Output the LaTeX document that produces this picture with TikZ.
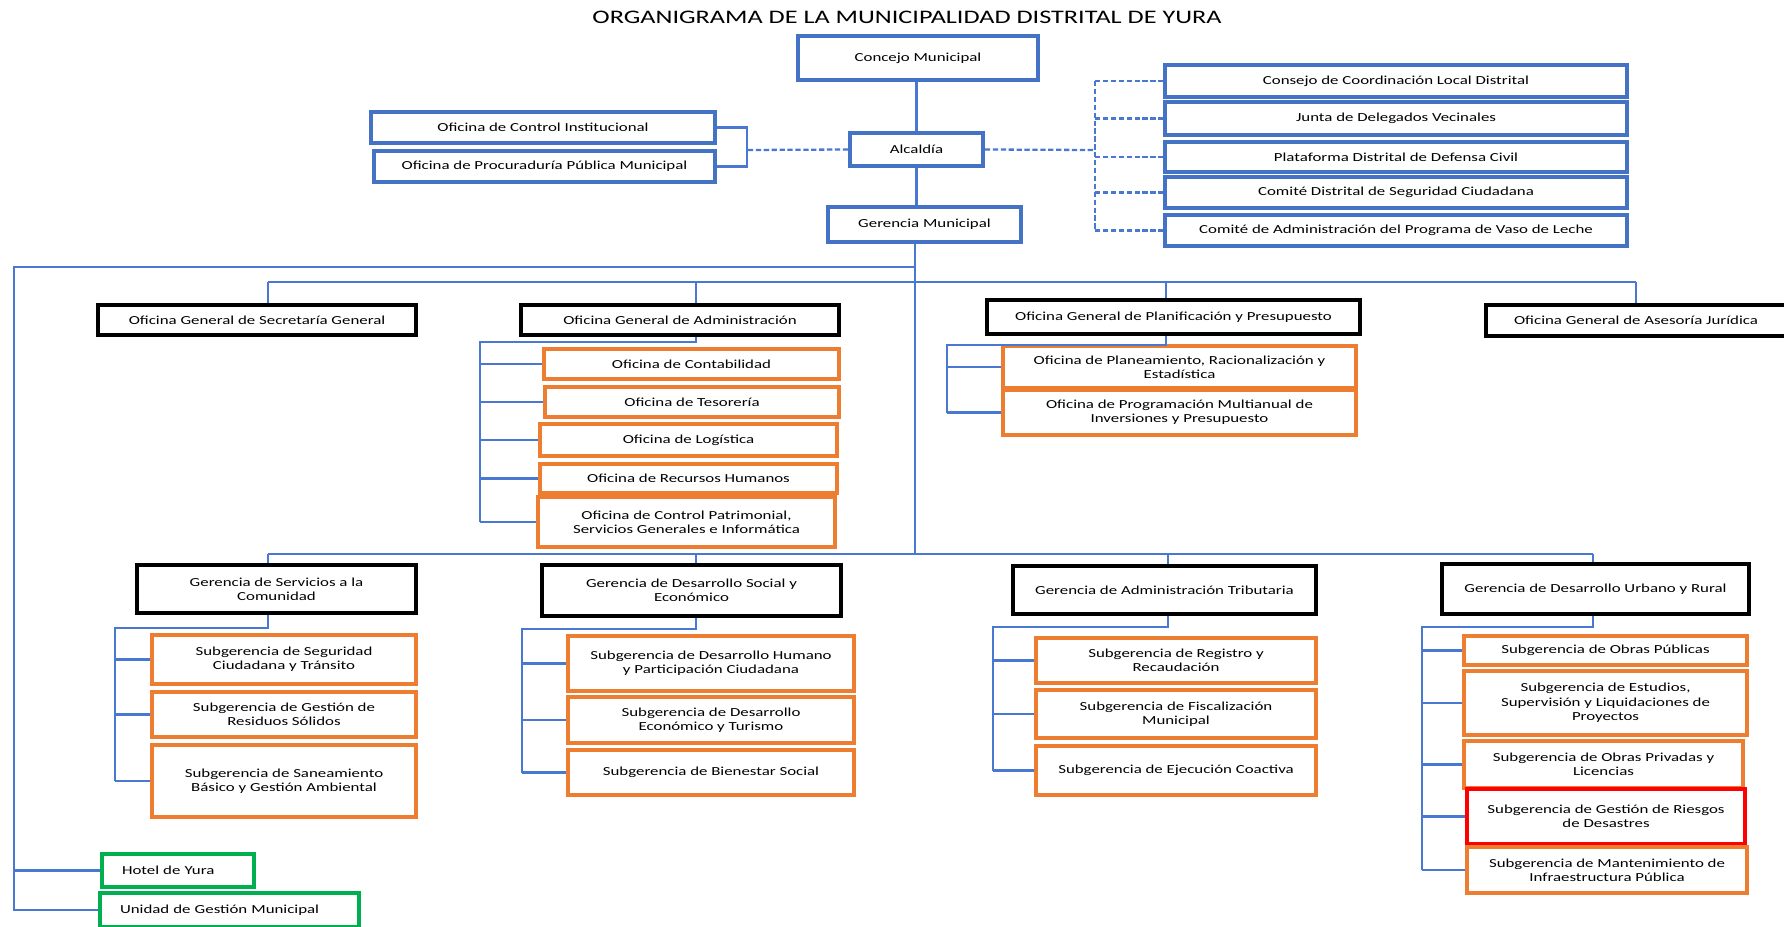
\documentclass[tikz,border=0pt]{standalone}
\usepackage{fontspec}
\setmainfont{Carlito}[FakeStretch=1.37]
\definecolor{boxblue}{RGB}{68,114,196}
\definecolor{lineblue}{RGB}{72,120,210}
\definecolor{boxorange}{RGB}{237,125,49}
\definecolor{boxgreen}{RGB}{0,176,80}

\begin{document}
\begin{tikzpicture}
  [
    x = 0.02cm, y = -0.02cm,
    every node/.style = {align=center, inner sep=1pt,
      font=\fontsize{7}{8.2}\selectfont},
    sz/.style 2 args = {minimum width=#1*0.02cm, minimum height=#2*0.02cm},
    bluebox/.style   = {draw=boxblue, line width=2.2pt},
    blackbox/.style  = {draw=black, line width=2.3pt},
    orangebox/.style = {draw=boxorange, line width=1.9pt},
    redbox/.style    = {draw=red, line width=2.4pt},
    greenbox/.style  = {draw=boxgreen, line width=1.8pt, align=left, inner xsep=0.4cm},
    link/.style      = {draw=lineblue, line width=1.3pt},
    dlink/.style     = {link, dash pattern=on 3pt off 1.5pt}
  ]
  \fill[white] (0,0) rectangle (1784,926);
  \useasboundingbox (0,0) rectangle (1784,926);

  \node[font=\fontsize{10.9}{12}\selectfont] (title) at (907,17)
    {ORGANIGRAMA DE LA MUNICIPALIDAD DISTRITAL DE YURA};

  % alta direccion
  \node[bluebox, sz={240}{44}] (concejo) at (918,58) {Concejo Municipal};
  \node[bluebox, sz={133}{33}] (alcaldia) at (916.5,149.5) {Alcaldía};
  \node[bluebox, sz={193}{35}] (gerencia) at (924.5,224.5) {Gerencia Municipal};
  \node[bluebox, sz={344}{31}] (oci) at (543,127.5) {Oficina de Control Institucional};
  \node[bluebox, sz={341}{31}] (opp) at (544.5,166.5) {Oficina de Procuraduría Pública Municipal};

  \node[bluebox, sz={462}{32}] (ccl) at (1396,81) {Consejo de Coordinación Local Distrital};
  \node[bluebox, sz={462}{33}] (jdv) at (1396,118.5) {Junta de Delegados Vecinales};
  \node[bluebox, sz={462}{30}] (pdd) at (1396,157) {Plataforma Distrital de Defensa Civil};
  \node[bluebox, sz={462}{31}] (cds) at (1396,192.5) {Comité Distrital de Seguridad Ciudadana};
  \node[bluebox, sz={462}{31}] (cav) at (1396,230.5) {Comité de Administración del Programa de Vaso de Leche};

  % oficinas generales
  \node[blackbox, sz={318}{30}] (sec) at (257,320) {Oficina General de Secretaría General};
  \node[blackbox, sz={318}{30}] (adm) at (680,320) {Oficina General de Administración};
  \node[blackbox, sz={373}{34}] (pla) at (1173.5,317) {Oficina General de Planificación y Presupuesto};
  \node[blackbox, sz={300}{31}] (ase) at (1636,320.5) {Oficina General de Asesoría Jurídica};

  \node[orangebox, sz={295}{30}] (con) at (691.5,364) {Oficina de Contabilidad};
  \node[orangebox, sz={294}{30}] (tes) at (692,402) {Oficina de Tesorería};
  \node[orangebox, sz={297}{32}] (log) at (688.5,440) {Oficina de Logística};
  \node[orangebox, sz={297}{29}] (rrh) at (688.5,478.5) {Oficina de Recursos Humanos};
  \node[orangebox, sz={297}{50}] (cpa) at (686.5,522) {Oficina de Control Patrimonial,\\ Servicios Generales e Informática};

  \node[orangebox, sz={353}{42}] (ppr) at (1179.5,367) {Oficina de Planeamiento, Racionalización y\\ Estadística};
  \node[orangebox, sz={353}{45}] (pmi) at (1179.5,412.5) {Oficina de Programación Multianual de\\ Inversiones y Presupuesto};

  % gerencias de linea
  \node[blackbox, sz={279}{48}] (ser) at (276.5,589) {Gerencia de Servicios a la\\ Comunidad};
  \node[blackbox, sz={299}{51}] (dso) at (691.5,590.5) {Gerencia de Desarrollo Social y\\ Económico};
  \node[blackbox, sz={303}{48}] (tri) at (1164.5,590) {Gerencia de Administración Tributaria};
  \node[blackbox, sz={307}{50}] (urb) at (1595.5,589) {Gerencia de Desarrollo Urbano y Rural};

  \node[orangebox, sz={264}{49}] (ssc) at (284,659.5) {Subgerencia de Seguridad\\ Ciudadana y Tránsito};
  \node[orangebox, sz={264}{45}] (srs) at (284,714.5) {Subgerencia de Gestión de\\ Residuos Sólidos};
  \node[orangebox, sz={264}{72}] (ssb) at (284,781) {Subgerencia de Saneamiento\\ Básico y Gestión Ambiental};

  \node[orangebox, sz={286}{55}] (sdh) at (711,663.5) {Subgerencia de Desarrollo Humano\\ y Participación Ciudadana};
  \node[orangebox, sz={286}{46}] (sde) at (711,720) {Subgerencia de Desarrollo\\ Económico y Turismo};
  \node[orangebox, sz={286}{45}] (sbs) at (711,772.5) {Subgerencia de Bienestar Social};

  \node[orangebox, sz={280}{45}] (srr) at (1176,660.5) {Subgerencia de Registro y\\ Recaudación};
  \node[orangebox, sz={280}{48}] (sfm) at (1176,714) {Subgerencia de Fiscalización\\ Municipal};
  \node[orangebox, sz={280}{49}] (sej) at (1176,770.5) {Subgerencia de Ejecución Coactiva};

  \node[orangebox, sz={283}{29}] (sop) at (1605.5,650.5) {Subgerencia de Obras Públicas};
  \node[orangebox, sz={283}{64}] (ses) at (1605.5,703) {Subgerencia de Estudios,\\ Supervisión y Liquidaciones de\\ Proyectos};
  \node[orangebox, sz={279}{47}] (spl) at (1603.5,764.5) {Subgerencia de Obras Privadas y\\ Licencias};
  \node[redbox, sz={278}{55}] (sgr) at (1606,816.5) {Subgerencia de Gestión de Riesgos\\ de Desastres};
  \node[orangebox, sz={280}{46}] (smi) at (1607,870) {Subgerencia de Mantenimiento de\\ Infraestructura Pública};

  % organos desconcentrados
  \node[greenbox, sz={152}{33}, text width=2.24cm] (hot) at (178,870.5) {Hotel de Yura};
  \node[greenbox, sz={259}{34}, text width=4.38cm] (uni) at (229.5,910) {Unidad de Gestión Municipal};

  % puntos de union
  \coordinate (lb) at (747,150);
  \coordinate (rb) at (1095,150);
  \coordinate (tr) at (915,554);
  \coordinate (ll) at (14,267);
  \coordinate (k1) at (268,282);
  \coordinate (k2) at (696,282);
  \coordinate (k3) at (1166,282);
  \coordinate (k4) at (1636,282);
  \coordinate (m1) at (268,554);
  \coordinate (m2) at (696,554);
  \coordinate (m3) at (1168,554);
  \coordinate (m4) at (1593,554);
  \coordinate (ab) at (480,342);
  \coordinate (pb) at (947,345);
  \coordinate (sb) at (115,628);
  \coordinate (db) at (522,629);
  \coordinate (tb) at (993,627);
  \coordinate (ub) at (1422,627);

  % conectores
  \draw[link] (alcaldia.north) -- (alcaldia.north |- concejo.south);
  \draw[link] (alcaldia.south) -- (alcaldia.south |- gerencia.north);
  \draw[link] (oci.east) -| (lb) |- (opp.east);
  \draw[dlink] (alcaldia.west) -- (lb);
  \draw[dlink] (alcaldia.east) -- (rb);
  \draw[dlink] (rb |- ccl.west) -- (rb |- cav.west);
  \foreach \n in {ccl,jdv,pdd,cds,cav}
    \draw[dlink] (rb |- \n.west) -- (\n.west);

  \draw[link] (tr |- gerencia.south) -- (tr);
  \draw[link] (tr |- ll) -- (ll) -- (ll |- uni.west) -- (uni.west);
  \draw[link] (ll |- hot.west) -- (hot.west);

  \draw[link] (k1) -- (k4);
  \foreach \k/\n in {k1/sec,k2/adm,k3/pla,k4/ase}
    \draw[link] (\k) -- (\k |- \n.north);
  \draw[link] (m1) -- (m4);
  \foreach \k/\n in {m1/ser,m2/dso,m3/tri,m4/urb}
    \draw[link] (\k) -- (\k |- \n.north);

  \draw[link] (k2 |- adm.south) -- (k2 |- ab) -- (ab) -- (ab |- cpa.west);
  \foreach \n in {con,tes,log,rrh,cpa}
    \draw[link] (ab |- \n.west) -- (\n.west);
  \draw[link] (k3 |- pla.south) -- (k3 |- pb) -- (pb) -- (pb |- pmi.west);
  \foreach \n in {ppr,pmi}
    \draw[link] (pb |- \n.west) -- (\n.west);

  \draw[link] (m1 |- ser.south) -- (m1 |- sb) -- (sb) -- (sb |- ssb.west);
  \foreach \n in {ssc,srs,ssb}
    \draw[link] (sb |- \n.west) -- (\n.west);
  \draw[link] (m2 |- dso.south) -- (m2 |- db) -- (db) -- (db |- sbs.west);
  \foreach \n in {sdh,sde,sbs}
    \draw[link] (db |- \n.west) -- (\n.west);
  \draw[link] (m3 |- tri.south) -- (m3 |- tb) -- (tb) -- (tb |- sej.west);
  \foreach \n in {srr,sfm,sej}
    \draw[link] (tb |- \n.west) -- (\n.west);
  \draw[link] (m4 |- urb.south) -- (m4 |- ub) -- (ub) -- (ub |- smi.west);
  \foreach \n in {sop,ses,spl,sgr,smi}
    \draw[link] (ub |- \n.west) -- (\n.west);
\end{tikzpicture}
\end{document}
